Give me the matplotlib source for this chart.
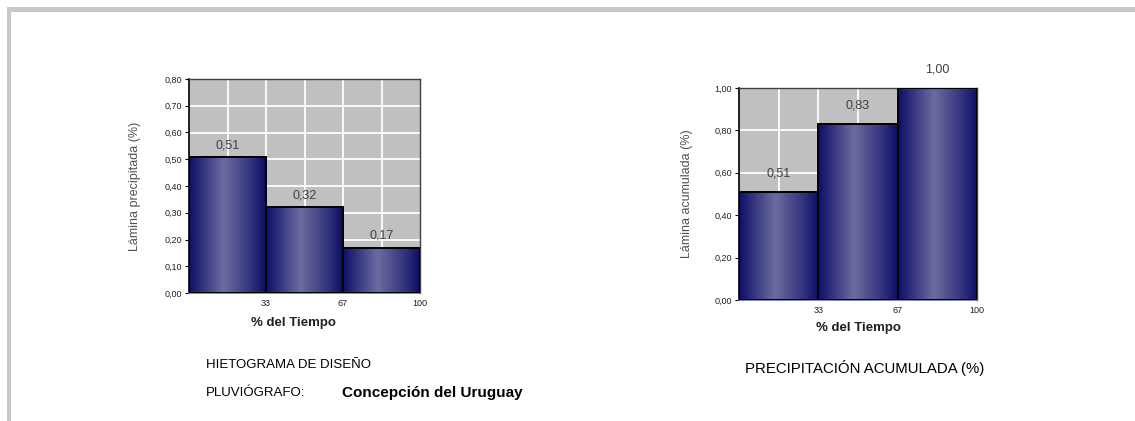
import numpy as np
import matplotlib
matplotlib.use("Agg")
import matplotlib.pyplot as plt
from matplotlib.colors import LinearSegmentedColormap
from matplotlib.patches import Rectangle
from matplotlib.ticker import FixedLocator, FuncFormatter

plt.rcParams['font.family'] = ['Liberation Sans', 'DejaVu Sans']

# Time fraction bins (% of storm duration)
time_edges = [0, 100 / 3, 200 / 3, 100]
time_tick_labels = ["33", "67", "100"]

# Design hyetograph: fraction of rainfall depth per time block
lamina_precipitada = [0.51, 0.32, 0.17]
# Cumulative fraction of rainfall depth
lamina_acumulada = [0.51, 0.83, 1.00]

W, H = 1135, 421
fig = plt.figure(figsize=(W / 100, H / 100), dpi=100)
fig.patch.set_facecolor("white")

# Page frame lines
frame_col = "#c8c8c8"
fig.add_artist(Rectangle((7 / W, 1 - 12 / H), 1 - 7 / W, 5 / H,
                         transform=fig.transFigure, color=frame_col, lw=0))
fig.add_artist(Rectangle((7 / W, 0), 4 / W, 1 - 7 / H,
                         transform=fig.transFigure, color=frame_col, lw=0))

bar_cmap = LinearSegmentedColormap.from_list(
    "navy_cyl",
    [(0.0, "#0e0e68"), (0.45, "#6c6ca0"), (0.8, "#34347e"), (1.0, "#0c0c66")])
gradient = np.linspace(0, 1, 256).reshape(1, -1)


def comma(v, _pos=None):
    return f"{v:.2f}".replace(".", ",")


def draw_panel(ax, values, ymax, ystep, ylabel, label_offset,
               xlabel_pos, ylabel_x):
    ax.set_facecolor("#c0c0c0")
    # grid
    for x in np.arange(1, 6) * 100 / 6:
        ax.axvline(x, color="white", lw=1.3, zorder=1)
    for y in np.arange(ystep, ymax - 1e-9, ystep):
        ax.axhline(y, color="white", lw=1.3, zorder=1)

    lefts = time_edges[:-1]
    widths = np.diff(time_edges)
    bars = ax.bar(lefts, values, width=widths, align="edge",
                  facecolor="none", edgecolor="black", lw=1.4, zorder=3)
    for b, v in zip(bars, values):
        x0, w, h = b.get_x(), b.get_width(), b.get_height()
        ax.imshow(gradient, cmap=bar_cmap, aspect="auto",
                  extent=(x0, x0 + w, 0, h), zorder=2, interpolation="bicubic")
        ax.annotate(comma(v), (x0 + w / 2, h), xytext=(0, label_offset),
                    textcoords="offset points", ha="center", va="bottom",
                    fontsize=9, color="#404040", zorder=4, annotation_clip=False)
    ax.set_xlim(0, 100)
    ax.set_ylim(0, ymax)

    ax.yaxis.set_major_locator(FixedLocator(np.arange(0, ymax + 1e-9, ystep)))
    ax.yaxis.set_major_formatter(FuncFormatter(comma))
    ax.xaxis.set_major_locator(FixedLocator(time_edges[1:]))
    ax.set_xticklabels(time_tick_labels)
    ax.tick_params(axis="y", length=3, width=0.8, labelsize=6.5, pad=2,
                   labelcolor="#202020")
    ax.tick_params(axis="x", length=0, labelsize=6.5, pad=4,
                   labelcolor="#202020")
    for s in ["top", "right"]:
        ax.spines[s].set_color("#404040")
        ax.spines[s].set_linewidth(1.0)
    ax.spines["left"].set_color("black")
    ax.spines["left"].set_linewidth(1.2)
    ax.spines["bottom"].set_color("#7070b0")
    ax.spines["bottom"].set_linewidth(1.2)
    ax.set_xlabel("% del Tiempo", fontsize=9.5, fontweight="bold",
                  color="#202020", va="center")
    ax.xaxis.set_label_coords(*xlabel_pos)
    ax.set_ylabel(ylabel, fontsize=9, color="#505050", va="center")
    ax.yaxis.set_label_coords(ylabel_x, 0.5)


ax1 = fig.add_axes([189 / W, 1 - 293 / H, 231 / W, 214 / H])
draw_panel(ax1, lamina_precipitada, 0.80, 0.10, "Lámina precipitada (%)", 4,
           (0.45, -0.14), -54 / 231)

ax2 = fig.add_axes([739 / W, 1 - 300 / H, 238 / W, 212 / H])
draw_panel(ax2, lamina_acumulada, 1.00, 0.20, "Lámina acumulada (%)", 9,
           (0.5, -0.132), -52 / 238)

# Captions
fig.text(206 / W, 1 - 365 / H, "HIETOGRAMA DE DISEÑO", fontsize=9.5,
         va="center", ha="left", color="black")
fig.text(206 / W, 1 - 393 / H, "PLUVIÓGRAFO:", fontsize=9.5,
         va="center", ha="left", color="black")
fig.text(342 / W, 1 - 393 / H, "Concepción del Uruguay", fontsize=11,
         fontweight="bold", va="center", ha="left", color="black")
fig.text(745 / W, 1 - 368 / H, "PRECIPITACIÓN ACUMULADA (%)", fontsize=10.8,
         va="center", ha="left", color="black")

fig.savefig("out.png", dpi=100, facecolor="white")
